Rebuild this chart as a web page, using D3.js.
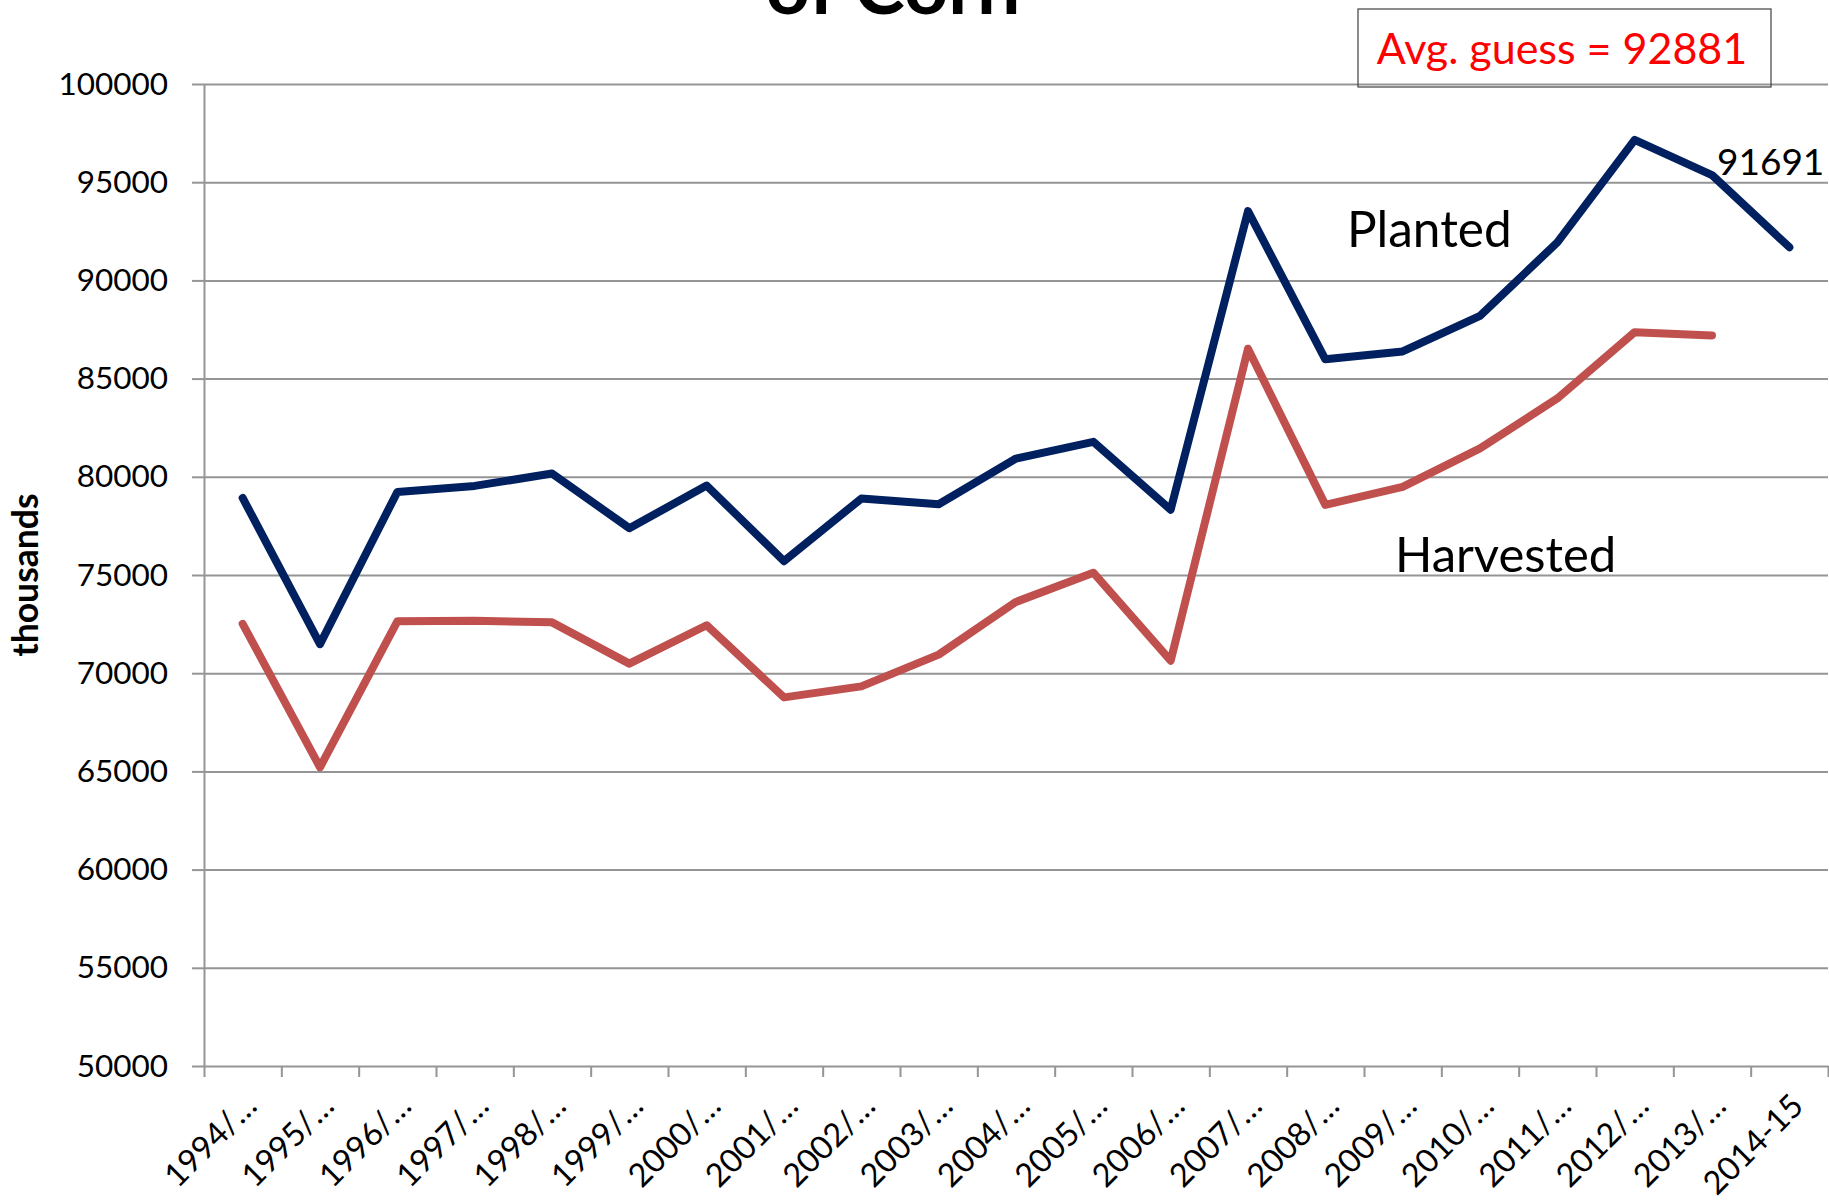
<!DOCTYPE html>
<html>
<head>
<meta charset="utf-8">
<script src="https://cdn.jsdelivr.net/npm/d3@7"></script>
<style>
  body { margin: 0; background: #fff; }
  svg text { font-family: Lato, "Open Sans", sans-serif; }
</style>
</head>
<body>
<div class="graph"></div>
<script>
const w = 1829;
const h = 1200;
const margin = {top: 84, right: 1, bottom: 134, left: 204};

const seasons = ["1994/…", "1995/…", "1996/…", "1997/…", "1998/…", "1999/…", "2000/…", "2001/…",
                 "2002/…", "2003/…", "2004/…", "2005/…", "2006/…", "2007/…", "2008/…", "2009/…",
                 "2010/…", "2011/…", "2012/…", "2013/…", "2014-15"];
const planted = [78921, 71479, 79229, 79537, 80165, 77386, 79551, 75702, 78894, 78603, 80929,
                 81779, 78327, 93527, 85982, 86382, 88192, 91936, 97155, 95365, 91691];
const harvested = [72514, 65210, 72644, 72671, 72589, 70487, 72440, 68768, 69330, 70944, 73631,
                   75117, 70638, 86520, 78570, 79490, 81446, 83989, 87365, 87200];
const yTicks = [50000, 55000, 60000, 65000, 70000, 75000, 80000, 85000, 90000, 95000, 100000];
const avgGuess = 92881;

const gray = "#959595";

const canvas = d3.select(".graph")
                 .append("svg")
                 .attr("width", w)
                 .attr("height", h);

const xScale = d3.scaleBand()
                 .domain(seasons)
                 .range([margin.left, w - margin.right]);

const yScale = d3.scaleLinear()
                 .domain([50000, 100000])
                 .range([h - margin.bottom, margin.top]);

const cx = d => xScale(d) + xScale.bandwidth() / 2;

// gridlines
canvas.append("g")
      .attr("transform", `translate(${margin.left},0)`)
      .call(d3.axisLeft(yScale).tickValues(yTicks.slice(1))
              .tickSize(-(w - margin.right - margin.left)).tickFormat(""))
      .call(g => g.select(".domain").remove())
      .selectAll("line").attr("stroke", gray).attr("stroke-width", 2);

// y-axis
canvas.append("g")
      .attr("transform", `translate(${margin.left},0)`)
      .call(d3.axisLeft(yScale).tickValues(yTicks).tickFormat(d3.format("d"))
              .tickSize(12).tickSizeOuter(0).tickPadding(24))
      .call(g => g.select(".domain").attr("stroke", gray).attr("stroke-width", 2))
      .call(g => g.selectAll("line").attr("stroke", gray).attr("stroke-width", 2))
      .call(g => g.selectAll("text").attr("font-size", 31.5).attr("fill", "#000")
                  .attr("font-family", "Lato"));

// x-axis line and ticks on band edges
const edge = d3.scaleLinear().domain([0, seasons.length]).range(xScale.range());
canvas.append("g")
      .attr("transform", `translate(0,${h - margin.bottom})`)
      .call(d3.axisBottom(edge).tickValues(d3.range(seasons.length + 1))
              .tickSize(11).tickSizeOuter(0).tickFormat(""))
      .call(g => g.select(".domain").attr("stroke", gray).attr("stroke-width", 2))
      .call(g => g.selectAll("line").attr("stroke", gray).attr("stroke-width", 2));

// x labels
canvas.append("g")
      .selectAll("text")
      .data(seasons)
      .enter().append("text")
      .attr("transform", d => `translate(${cx(d) + 16},${h - margin.bottom + 42}) rotate(-45)`)
      .attr("text-anchor", "end")
      .attr("font-size", 32.5)
      .text(d => d);

// lines
const line = d3.line()
               .x((d, i) => cx(seasons[i]))
               .y(d => yScale(d));

canvas.append("path")
      .datum(harvested)
      .attr("d", line)
      .attr("fill", "none")
      .attr("stroke", "#C0504D")
      .attr("stroke-width", 8)
      .attr("stroke-linecap", "round")
      .attr("stroke-linejoin", "round");

canvas.append("path")
      .datum(planted)
      .attr("d", line)
      .attr("fill", "none")
      .attr("stroke", "#002060")
      .attr("stroke-width", 8)
      .attr("stroke-linecap", "round")
      .attr("stroke-linejoin", "round");

// labels
canvas.append("text")
      .attr("x", 1717).attr("y", 175)
      .attr("font-size", 37)
      .text(planted[planted.length - 1]);

canvas.append("text")
      .attr("x", 1347).attr("y", 247)
      .attr("font-size", 49.5)
      .text("Planted");

canvas.append("text")
      .attr("x", 1395).attr("y", 572)
      .attr("font-size", 49)
      .text("Harvested");

// avg guess box
canvas.append("rect")
      .attr("x", 1358).attr("y", 9)
      .attr("width", 413).attr("height", 78)
      .attr("fill", "none")
      .attr("stroke", "#404040")
      .attr("stroke-width", 1.2);

canvas.append("text")
      .attr("x", 1562).attr("y", 64)
      .attr("text-anchor", "middle")
      .attr("font-size", 43)
      .attr("fill", "#FF0000")
      .text("Avg. guess = " + avgGuess);

// title (cut off at the top, as in the source)
canvas.append("text")
      .attr("x", 893).attr("y", 14)
      .attr("text-anchor", "middle")
      .attr("font-size", 77)
      .attr("font-weight", "bold")
      .text("of Corn");

// y-axis title
canvas.append("text")
      .attr("transform", "translate(38,575) rotate(-90)")
      .attr("text-anchor", "middle")
      .attr("font-size", 35.5)
      .attr("font-weight", "bold")
      .text("thousands");
</script>
</body>
</html>
